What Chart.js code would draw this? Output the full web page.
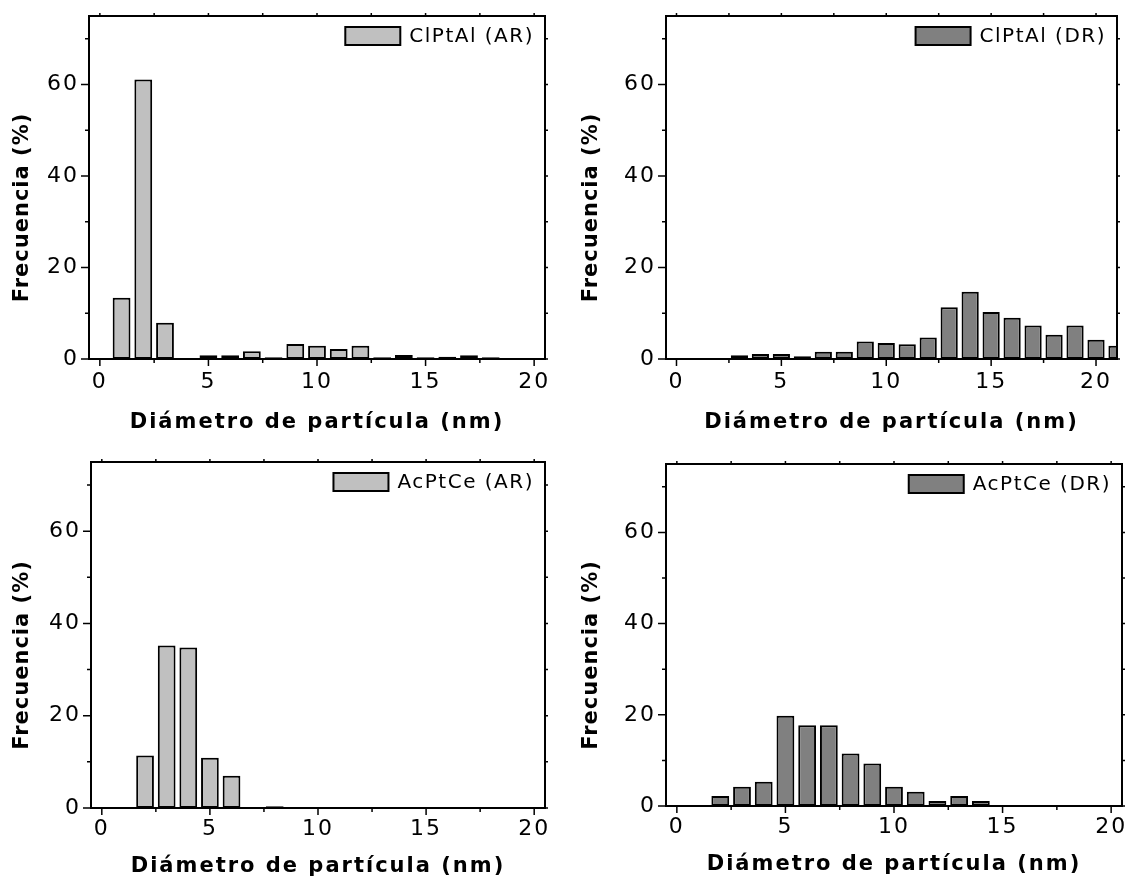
<!DOCTYPE html>
<html>
<head>
<meta charset="utf-8">
<script src="https://cdn.jsdelivr.net/npm/chart.js@4.4.1/dist/chart.umd.min.js"></script>
<style>
  html, body { margin: 0; padding: 0; background: #fff; }
  #wrap { position: relative; width: 1127px; height: 884px; overflow: hidden; }
  canvas { position: absolute; }
</style>
</head>
<body>
<div id="wrap">
  <canvas id="c1" width="563" height="442" style="left:0;top:0"></canvas>
  <canvas id="c2" width="564" height="442" style="left:563px;top:0"></canvas>
  <canvas id="c3" width="563" height="442" style="left:0;top:442px"></canvas>
  <canvas id="c4" width="564" height="442" style="left:563px;top:442px"></canvas>
</div>
<script>
// --- datos (diámetro en nm, frecuencia en %)
const clptalArX = [1, 2, 3, 5, 6, 7, 8, 9, 10, 11, 12, 13, 14, 15, 16, 17, 18];
const clptalArY = [13.4, 61.1, 7.9, 0.8, 0.8, 1.7, 0.4, 3.3, 2.9, 2.2, 2.9, 0.4, 0.9, 0.4, 0.5, 0.8, 0.4];

const clptalDrX = [3, 4, 5, 6, 7, 8, 9, 10, 11, 12, 13, 14, 15, 16, 17, 18, 19, 20, 21];
const clptalDrY = [0.8, 1.1, 1.1, 0.6, 1.6, 1.6, 3.8, 3.5, 3.2, 4.7, 11.3, 14.7, 10.3, 9.0, 7.3, 5.3, 7.3, 4.2, 2.9];

const acptceArX = [2, 3, 4, 5, 6, 8];
const acptceArY = [11.4, 35.2, 34.8, 10.9, 7.0, 0.4];

const acptceDrX = [2, 3, 4, 5, 6, 7, 8, 9, 10, 11, 12, 13, 14];
const acptceDrY = [2.2, 4.2, 5.3, 19.8, 17.7, 17.7, 11.5, 9.3, 4.2, 3.1, 1.1, 2.2, 1.1];

const xMajor = [0, 5, 10, 15, 20];
const xMinor = [2.5, 7.5, 12.5, 17.5];
const yMajor = [0, 20, 40, 60];
const yMinor = [10, 30, 50, 70];

const xTitle = "Diámetro de partícula (nm)";
const yTitle = "Frecuencia (%)";

const FONT = "'DejaVu Sans', Verdana, sans-serif";
const tickFont = { family: FONT, size: 22 };
const titleFont = { family: FONT, size: 21, weight: "bold" };

// marco, ticks menores, leyenda y título del eje y
const marco = {
  id: "marco",
  beforeDraw(chart) {
    chart.ctx.letterSpacing = "2px";
  },
  afterDraw(chart, args, opts) {
    const { ctx, chartArea: a, scales: { x, y } } = chart;
    ctx.save();
    ctx.strokeStyle = "#000";
    ctx.lineWidth = 1.5;
    ctx.beginPath();
    const seg = (x1, y1, x2, y2) => { ctx.moveTo(x1, y1); ctx.lineTo(x2, y2); };
    xMajor.concat(xMinor).forEach(v => {
      if (v > x.max) return;
      const px = x.getPixelForValue(v);
      seg(px, a.bottom, px, a.bottom + (xMajor.includes(v) ? 7 : 4));
      seg(px, a.top, px, a.top - 3);
    });
    yMajor.concat(yMinor).forEach(v => {
      const py = y.getPixelForValue(v);
      seg(a.left, py, a.left - (yMajor.includes(v) ? 8 : 4), py);
      seg(a.right, py, a.right + 3, py);
    });
    ctx.stroke();
    ctx.lineWidth = 2;
    ctx.strokeRect(a.left, a.top, a.right - a.left, a.bottom - a.top);

    // leyenda
    const ds = chart.data.datasets[0];
    ctx.font = "20px " + FONT;
    ctx.letterSpacing = "1.5px";
    ctx.fillStyle = "#000";
    ctx.textAlign = "right";
    ctx.textBaseline = "middle";
    const tx = a.right - 11;
    const ty = a.top + 21;
    ctx.fillText(ds.label, tx, ty);
    const w = ctx.measureText(ds.label).width;
    const bx = tx - w - 9 - 55;
    ctx.fillStyle = ds.backgroundColor;
    ctx.fillRect(bx, a.top + 11, 55, 18);
    ctx.lineWidth = 2;
    ctx.strokeRect(bx, a.top + 11, 55, 18);

    // título eje y
    ctx.font = "bold 21px " + FONT;
    ctx.letterSpacing = "1px";
    ctx.fillStyle = "#000";
    ctx.textAlign = "center";
    ctx.translate(opts.yTitleX, (a.top + a.bottom) / 2 + 20);
    ctx.rotate(-Math.PI / 2);
    ctx.fillText(yTitle, 0, 0);
    ctx.restore();
  }
};

function makeChart(id, box, label, color, xs, ys, xMax) {
  const points = xs.map((v, i) => ({ x: v, y: ys[i] }));
  return new Chart(document.getElementById(id), {
    type: "bar",
    data: {
      datasets: [{
        label,
        data: points,
        backgroundColor: color,
        borderColor: "#000",
        borderWidth: 2,
        borderSkipped: false,
        barPercentage: 0.82,
        categoryPercentage: 1,
        clip: { left: 0, top: 0, right: 0, bottom: 2 }
      }]
    },
    options: {
      responsive: false,
      animation: false,
      devicePixelRatio: 1,
      layout: { padding: { top: box.top, right: box.right, left: 0, bottom: 0 } },
      plugins: {
        legend: { display: false },
        tooltip: { enabled: false },
        marco: { yTitleX: box.yTitleX }
      },
      scales: {
        x: {
          type: "linear",
          min: -0.5,
          max: xMax,
          offset: false,
          grid: { display: false, drawTicks: false, offset: false },
          border: { display: false },
          afterBuildTicks: s => { s.ticks = xMajor.map(v => ({ value: v })); },
          afterFit: s => { s.height = box.bottomH; s.paddingLeft = 0; s.paddingRight = 0; },
          ticks: { padding: box.xPad, color: "#000", font: tickFont, maxRotation: 0, autoSkip: false },
          title: { display: true, text: xTitle, color: "#000", font: titleFont, padding: { top: 0, bottom: box.titlePad } }
        },
        y: {
          min: 0,
          max: 75,
          grid: { display: false, drawTicks: false },
          border: { display: false },
          afterBuildTicks: s => { s.ticks = yMajor.map(v => ({ value: v })); },
          afterFit: s => { s.width = box.leftW; s.paddingTop = 0; s.paddingBottom = 0; },
          ticks: { padding: 10, color: "#000", font: tickFont }
        }
      }
    },
    plugins: [marco]
  });
}

makeChart("c1", { top: 16, right: 18, bottomH: 83, leftW: 89, xPad: 10, titlePad: 7, yTitleX: 23 },
  "ClPtAl (AR)", "#c0c0c0", clptalArX, clptalArY, 20.5);
makeChart("c2", { top: 16, right: 10, bottomH: 83, leftW: 103, xPad: 10, titlePad: 7, yTitleX: 29 },
  "ClPtAl (DR)", "#808080", clptalDrX, clptalDrY, 21);
makeChart("c3", { top: 20, right: 18, bottomH: 76, leftW: 91, xPad: 8, titlePad: 5, yTitleX: 23 },
  "AcPtCe (AR)", "#c0c0c0", acptceArX, acptceArY, 20.5);
makeChart("c4", { top: 22, right: 5, bottomH: 78, leftW: 103, xPad: 8, titlePad: 7, yTitleX: 29 },
  "AcPtCe (DR)", "#808080", acptceDrX, acptceDrY, 20.5);
</script>
</body>
</html>
